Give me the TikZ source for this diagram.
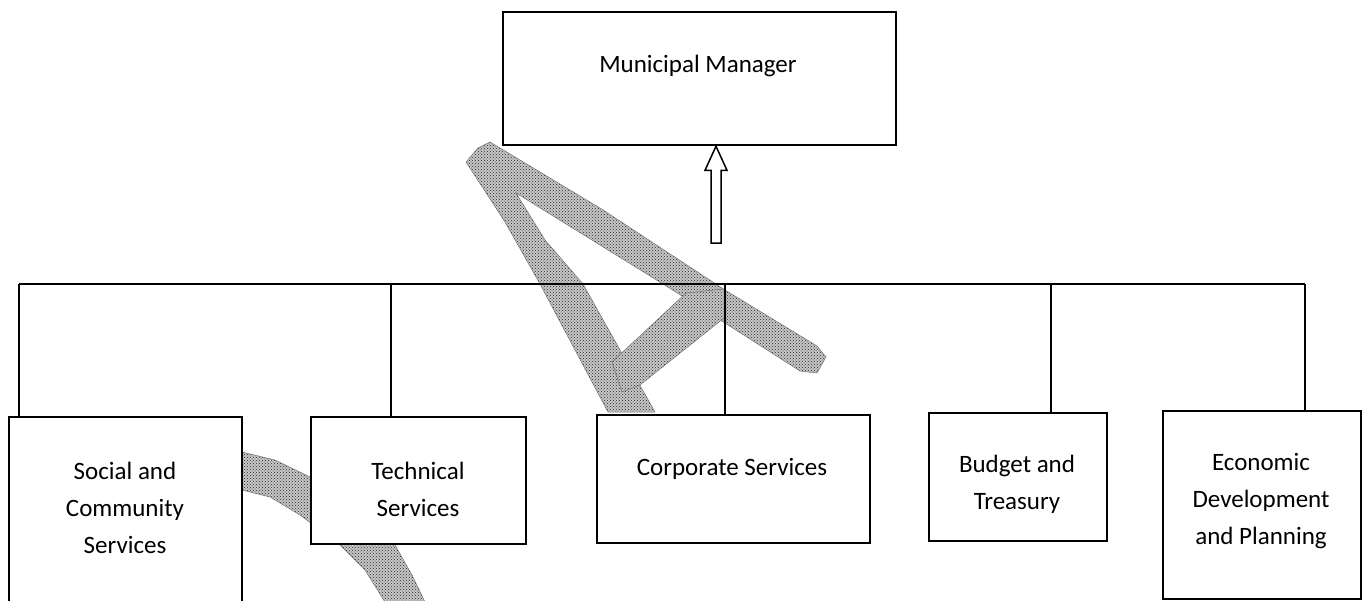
\documentclass[tikz,border=0pt]{standalone}
\usepackage{fontspec}
\setmainfont{Carlito}
\usetikzlibrary{calc,patterns}
\begin{document}
\begin{tikzpicture}[x=1pt,y=-1pt,
  box/.style={draw, line width=2.3pt, fill=white, rectangle, inner sep=0pt, anchor=north west},
  lbl/.style={align=center, font=\fontsize{25}{37}\selectfont, inner sep=0pt},
  wire/.style={line width=2pt},
  smear/.style={preaction={fill=black!22}, pattern=crosshatch dots, pattern color=black!85,
    draw=black!55, line width=0.5pt}]
\useasboundingbox (0,0) rectangle (1366,600);

% pencil smears behind the chart
\path[smear] (466,162) -- (478,148) -- (490,142) -- (600,208) -- (725,290) -- (817,346)
  -- (826,357) -- (817,373) -- (800,371) -- (725,323) -- (663,284) -- (516,193)
  -- (545,240) -- (583,284) -- (620,350) -- (655,412) -- (608,412) -- (575,350)
  -- (540,284) -- (505,222) -- cycle;
\path[smear] (612,362) -- (686,293) -- (724,289) -- (724,318) -- (640,385) -- (622,392) -- cycle;
\path[smear] (242,452) -- (275,460) -- (310,477) -- (360,515) -- (395,545) -- (412,575)
  -- (425,602) -- (385,602) -- (365,570) -- (338,543) -- (300,515) -- (270,497) -- (242,490) -- cycle;

% boxes
\node[box, minimum width=393, minimum height=133] (mm)  at (502,11)  {};
\node[box, minimum width=233, minimum height=195] (soc) at (8,416)   {};
\node[box, minimum width=215, minimum height=127] (tec) at (310,416) {};
\node[box, minimum width=273, minimum height=128] (cor) at (596,414) {};
\node[box, minimum width=178, minimum height=128] (bud) at (928,412) {};
\node[box, minimum width=198, minimum height=188] (eco) at (1162,410){};

% labels
\node[lbl] (mmt)  at (698,66)   {Municipal Manager};
\node[lbl] (soct) at (125,508)  {Social and\\Community\\Services};
\node[lbl] (tect) at (418,489)  {Technical\\Services};
\node[lbl] (cort) at (732,469)  {Corporate Services};
\node[lbl] (budt) at (1017,484) {Budget and\\Treasury};
\node[lbl] (ecot) at (1261,501) {Economic\\Development\\and Planning};

% reporting lines
\coordinate (b1) at (19,284);
\coordinate (b2) at (391,284);
\coordinate (b3) at (725,284);
\coordinate (b4) at (1051,284);
\coordinate (b5) at (1305,284);
\draw[wire] (b1) -- (b5);
\draw[wire] (b1) -- (b1 |- soc.north);
\draw[wire] (b2) -- (b2 |- tec.north);
\draw[wire] (b3) -- (b3 |- cor.north);
\draw[wire] (b4) -- (b4 |- bud.north);
\draw[wire] (b5) -- (b5 |- eco.north);

% hollow block arrow up to the manager
\coordinate (ax) at (716,243);
\coordinate (tip) at (ax |- mm.south);
\draw[line width=1.5pt, fill=white] ($(ax)+(-5,0)$) -- ($(tip)+(-5,24)$) -- ($(tip)+(-11,24)$)
  -- (tip) -- ($(tip)+(11,24)$) -- ($(tip)+(5,24)$) -- ($(ax)+(5,0)$) -- cycle;
\end{tikzpicture}
\end{document}
